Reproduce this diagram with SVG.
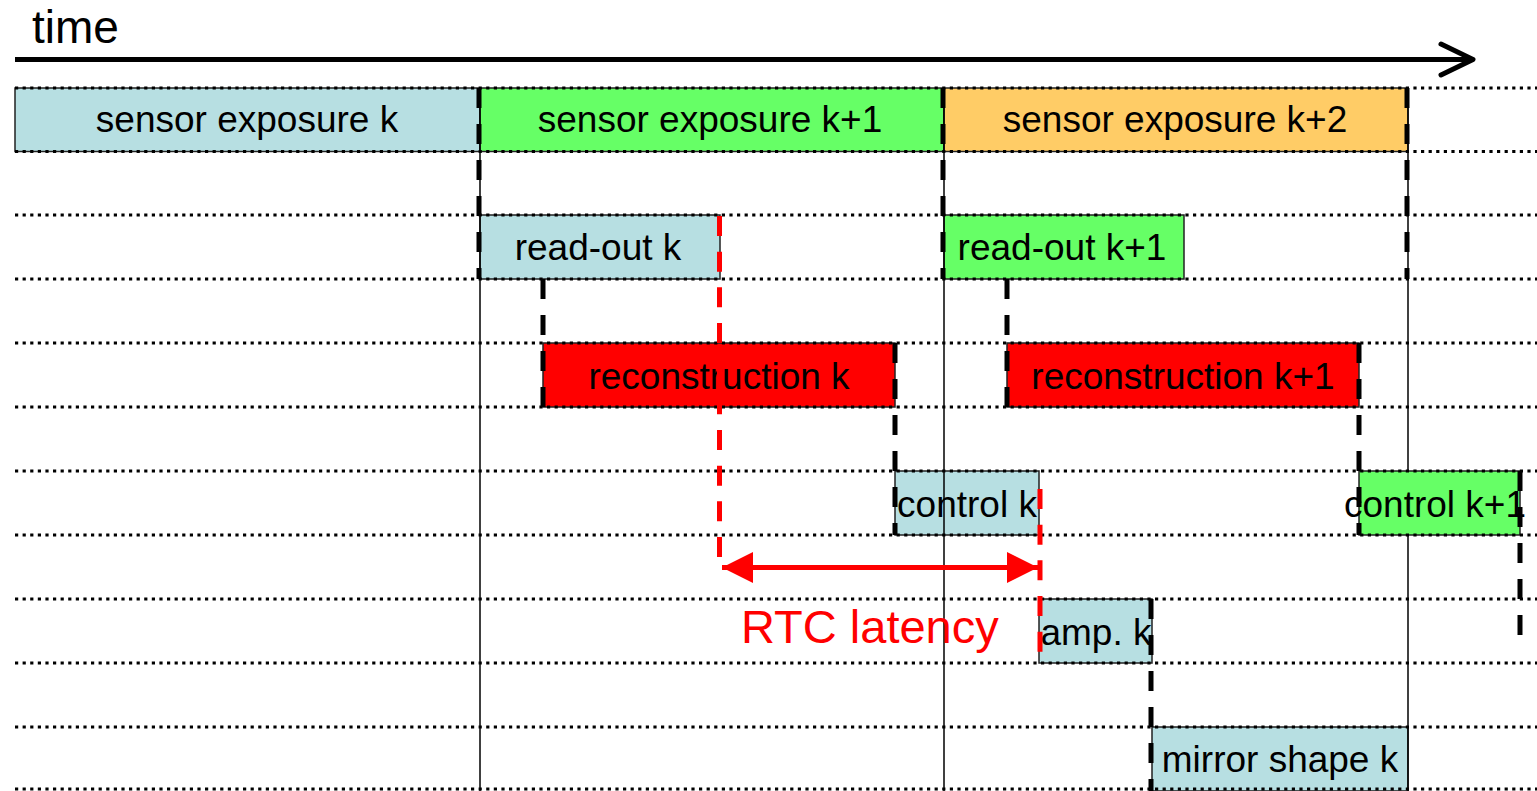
<svg xmlns="http://www.w3.org/2000/svg" width="1537" height="791" viewBox="0 0 1537 791">
  <style>
    .lbl { font-family: "Liberation Sans", Arial, sans-serif; font-size: 37px; fill: #000; text-anchor: middle; }
    .box { stroke: #222; stroke-width: 1.5; }
    .blue { fill: #B7DFE2; }
    .green { fill: #66FF66; }
    .orange { fill: #FFCC66; }
    .red { fill: #FF0000; }
    .grid { stroke: #000; stroke-width: 3.2; stroke-dasharray: 3.2 4.4; fill: none; }
    .phase { stroke: #000; stroke-width: 1.5; fill: none; }
    .dep { stroke: #000; stroke-width: 5; stroke-dasharray: 20 16; fill: none; }
    .lat { stroke: #FF0000; stroke-width: 5; stroke-dasharray: 20 15.67; fill: none; }
  </style>
  <defs>
    <marker id="latHead" viewBox="0 0 31 31" refX="31" refY="15.5" markerWidth="31" markerHeight="31" markerUnits="userSpaceOnUse" orient="auto-start-reverse">
      <polygon points="0,0 31,15.5 0,31" fill="#FF0000"/>
    </marker>
  </defs>

  <rect width="1537" height="791" fill="#fff"/>

  <!-- time axis -->
  <g id="time-axis">
    <text x="32" y="43" font-family="Liberation Sans, Arial, sans-serif" font-size="46" fill="#000">time</text>
    <line x1="15" y1="59.5" x2="1472" y2="59.5" stroke="#000" stroke-width="5"/>
    <polyline points="1441,44 1473,59.5 1441,75" fill="none" stroke="#000" stroke-width="5" stroke-linecap="round" stroke-linejoin="round"/>
  </g>

  <!-- pipeline stages -->
  <g id="sensor-exposure-k">
    <rect class="box blue" x="15" y="88" width="465" height="63.5"/>
    <text class="lbl" x="247" y="132">sensor exposure k</text>
  </g>
  <g id="sensor-exposure-k1">
    <rect class="box green" x="480" y="88" width="464" height="63.5"/>
    <text class="lbl" x="710" y="132">sensor exposure k+1</text>
  </g>
  <g id="sensor-exposure-k2">
    <rect class="box orange" x="944" y="88" width="464" height="63.5"/>
    <text class="lbl" x="1175" y="132">sensor exposure k+2</text>
  </g>
  <g id="read-out-k">
    <rect class="box blue" x="480" y="215" width="240" height="64"/>
    <text class="lbl" x="598" y="260">read-out k</text>
  </g>
  <g id="read-out-k1">
    <rect class="box green" x="944" y="215" width="240" height="64"/>
    <text class="lbl" x="1062" y="260">read-out k+1</text>
  </g>
  <g id="reconstruction-k">
    <rect class="box red" x="543" y="343" width="352" height="64"/>
    <text class="lbl" x="719" y="389">reconstruction k</text>
  </g>
  <g id="reconstruction-k1">
    <rect class="box red" x="1007" y="343" width="352" height="64"/>
    <text class="lbl" x="1183" y="389">reconstruction k+1</text>
  </g>
  <g id="control-k">
    <rect class="box blue" x="895" y="471" width="144" height="64"/>
    <text class="lbl" x="967" y="517">control k</text>
  </g>
  <g id="control-k1">
    <rect class="box green" x="1359" y="471" width="161" height="64"/>
    <text class="lbl" x="1435" y="517">control k+1</text>
  </g>
  <g id="amp-k">
    <rect class="box blue" x="1039" y="599" width="113" height="64"/>
    <text class="lbl" x="1096" y="645">amp. k</text>
  </g>
  <g id="mirror-shape-k">
    <rect class="box blue" x="1152" y="727" width="256" height="64"/>
    <text class="lbl" x="1280" y="772">mirror shape k</text>
  </g>

  <!-- frame boundaries -->
  <g id="frame-lines">
    <line class="phase" x1="480" y1="88" x2="480" y2="791"/>
    <line class="phase" x1="944" y1="88" x2="944" y2="791"/>
    <line class="phase" x1="1408" y1="88" x2="1408" y2="471"/>
    <line class="phase" x1="1408" y1="535" x2="1408" y2="791"/>
  </g>

  <!-- row grid -->
  <g id="grid">
    <line class="grid" x1="15" y1="88" x2="1537" y2="88"/>
    <line class="grid" x1="15" y1="151.5" x2="1537" y2="151.5"/>
    <line class="grid" x1="15" y1="215" x2="1537" y2="215"/>
    <line class="grid" x1="15" y1="279" x2="1537" y2="279"/>
    <line class="grid" x1="15" y1="343" x2="1537" y2="343"/>
    <line class="grid" x1="15" y1="407" x2="1537" y2="407"/>
    <line class="grid" x1="15" y1="471" x2="1537" y2="471"/>
    <line class="grid" x1="15" y1="535" x2="1537" y2="535"/>
    <line class="grid" x1="15" y1="599" x2="1537" y2="599"/>
    <line class="grid" x1="15" y1="663" x2="1537" y2="663"/>
    <line class="grid" x1="15" y1="727" x2="1537" y2="727"/>
    <line class="grid" x1="15" y1="789" x2="1537" y2="789"/>
  </g>

  <!-- stage dependencies -->
  <g id="connectors">
    <line class="dep" x1="479" y1="88" x2="479" y2="279"/>
    <line class="dep" x1="943" y1="88" x2="943" y2="279"/>
    <line class="dep" x1="1407" y1="88" x2="1407" y2="279"/>
    <line class="dep" x1="543" y1="279" x2="543" y2="407"/>
    <line class="dep" x1="1007" y1="279" x2="1007" y2="407"/>
    <line class="dep" x1="895" y1="343" x2="895" y2="535"/>
    <line class="dep" x1="1359" y1="343" x2="1359" y2="535"/>
    <line class="dep" x1="1520" y1="471" x2="1520" y2="636"/>
    <line class="dep" x1="1151" y1="599" x2="1151" y2="791"/>
  </g>

  <!-- latency marker -->
  <g id="rtc-latency">
    <line class="lat" x1="719.5" y1="216" x2="719.5" y2="557"/>
    <line class="lat" x1="1040" y1="489" x2="1040" y2="657"/>
    <line x1="722" y1="567.5" x2="1038" y2="567.5" stroke="#FF0000" stroke-width="5" marker-start="url(#latHead)" marker-end="url(#latHead)"/>
    <text x="741" y="643" font-family="Liberation Sans, Arial, sans-serif" font-size="47" fill="#FF0000">RTC latency</text>
  </g>
</svg>
